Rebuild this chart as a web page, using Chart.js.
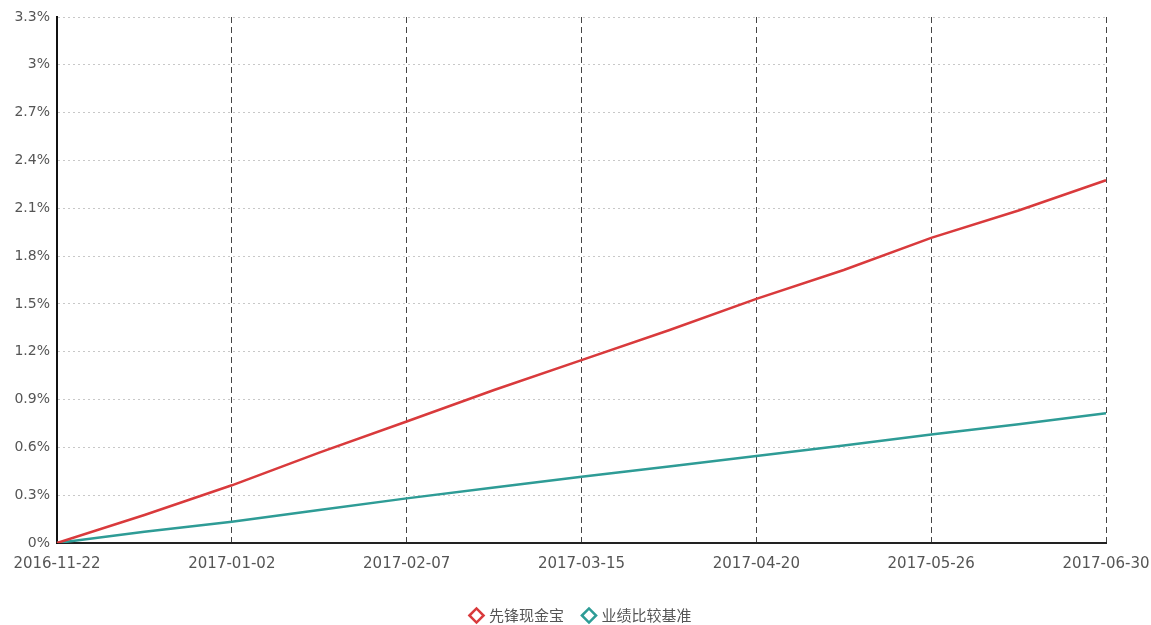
<!DOCTYPE html>
<html>
<head>
<meta charset="utf-8">
<script src="https://cdn.jsdelivr.net/npm/chart.js@4.4.0/dist/chart.umd.min.js"></script>
<style>
    html, body { margin: 0; padding: 0; background: #fff; }
    #wrap { width: 1151px; height: 625px; }
</style>
</head>
<body>
<div id="wrap"><canvas id="fundChart"></canvas></div>
<script>
// x categories (only every 2nd one is shown as a tick)
const dates = ['2016-11-22', '2016-12-12', '2017-01-02', '2017-01-20', '2017-02-07', '2017-02-25', '2017-03-15',
               '2017-04-02', '2017-04-20', '2017-05-08', '2017-05-26', '2017-06-12', '2017-06-30'];
// cumulative return, %
const cashFund = [0, 0.176, 0.362, 0.567, 0.762, 0.96, 1.147, 1.335, 1.532, 1.713, 1.914, 2.086, 2.276];
const benchmark = [0, 0.071, 0.134, 0.207, 0.28, 0.348, 0.416, 0.48, 0.546, 0.611, 0.68, 0.745, 0.814];
const seriesNames = ['先锋现金宝', '业绩比较基准'];

const labelFont = { family: '"DejaVu Sans", Verdana, sans-serif', size: 14 };

const ctx = document.getElementById('fundChart').getContext('2d');
new Chart(ctx, {
    type: 'line',
    data: {
        labels: dates,
        datasets: [{
            label: seriesNames[0],
            data: cashFund,
            borderColor: '#d93a3c',
            backgroundColor: '#ffffff',
            borderWidth: 2.5,
            pointRadius: 0,
            pointStyle: 'rectRot',
            tension: 0
        }, {
            label: seriesNames[1],
            data: benchmark,
            borderColor: '#2e9c96',
            backgroundColor: '#ffffff',
            borderWidth: 2.5,
            pointRadius: 0,
            pointStyle: 'rectRot',
            tension: 0
        }]
    },
    options: {
        responsive: true,
        maintainAspectRatio: false,
        animation: false,
        layout: { padding: { top: 17, right: 45, left: 0, bottom: -8 } },
        plugins: {
            tooltip: { enabled: false },
            legend: {
                position: 'bottom',
                fullSize: false,
                labels: {
                    usePointStyle: true,
                    boxWidth: 10,
                    boxHeight: 10,
                    padding: 20,
                    color: '#555',
                    font: { family: '"Noto Sans CJK SC", sans-serif', size: 15 }
                }
            }
        },
        scales: {
            x: {
                type: 'category',
                offset: false,
                grid: {
                    color: '#444',
                    lineWidth: 1,
                    drawTicks: false
                },
                border: { display: true, color: '#222', width: 2, dash: [6, 4] },
                ticks: {
                    autoSkip: false,
                    maxRotation: 0,
                    padding: 12,
                    color: '#555',
                    font: { family: labelFont.family, size: 15 },
                    callback: function(value, index) {
                        return index % 2 === 0 ? dates[index] : null;
                    }
                },
                afterFit: function(scale) {
                    scale.height += 3;
                    scale.paddingLeft = 0;
                    scale.paddingRight = 0;
                }
            },
            y: {
                min: 0,
                max: 3.3,
                grid: {
                    color: '#c8c8c8',
                    lineWidth: 1,
                    drawTicks: false
                },
                border: { display: true, color: '#111', width: 2, dash: [2, 3] },
                ticks: {
                    stepSize: 0.3,
                    padding: 7,
                    color: '#555',
                    font: labelFont,
                    callback: function(value) {
                        return parseFloat(value.toFixed(1)) + '%';
                    }
                },
                afterFit: function(scale) {
                    scale.width = 57;
                    scale.paddingTop = 0;
                    scale.paddingBottom = 0;
                }
            }
        }
    }
});
</script>
</body>
</html>
